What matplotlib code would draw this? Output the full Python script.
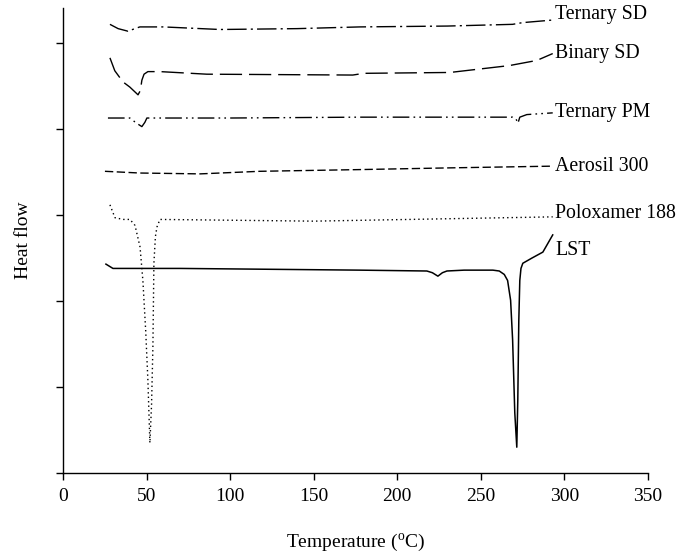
import matplotlib
matplotlib.use("Agg")
import matplotlib.pyplot as plt

plt.rcParams['font.family'] = ['Liberation Serif', 'DejaVu Serif']
plt.rcParams['mathtext.fontset'] = 'custom'
plt.rcParams['mathtext.rm'] = 'Liberation Serif'

# DSC thermograms, values (arbitrary heat flow units)
ternary_sd_t = [28.1, 33, 38.9, 43, 46, 60, 93.9, 140, 177.6, 230, 269, 275, 293]
ternary_sd_y = [5.22, 5.17, 5.14, 5.17, 5.19, 5.19, 5.16, 5.17, 5.19, 5.20, 5.22, 5.24, 5.27]

binary_sd_t = [28.1, 31, 35.9, 40, 44.9, 46.3, 47.2, 48.5, 50.8, 58, 86, 173.4, 180, 231.5, 267, 283.5, 293]
binary_sd_y = [4.83, 4.68, 4.55, 4.49, 4.40, 4.45, 4.57, 4.64, 4.67, 4.67, 4.64, 4.63, 4.65, 4.66, 4.74, 4.80, 4.88]

ternary_pm_t = [26.9, 40, 44, 47.2, 49, 50.2, 100, 177.6, 269, 271, 272.2, 273.3, 277.5, 293]
ternary_pm_y = [4.13, 4.13, 4.07, 4.03, 4.08, 4.13, 4.13, 4.14, 4.14, 4.12, 4.07, 4.14, 4.17, 4.19]

aerosil_t = [25.1, 46, 82, 117.8, 177.6, 231.5, 293]
aerosil_y = [3.51, 3.49, 3.48, 3.51, 3.53, 3.55, 3.57]

poloxamer_t = [28.1, 31.1, 36, 40.1, 43.1, 46.1, 47.8, 49.5, 50.8, 52.0, 53.0, 53.8, 54.4, 55.3, 56.2, 58.0, 150, 293]
poloxamer_y = [3.12, 2.97, 2.95, 2.95, 2.88, 2.63, 2.24, 1.65, 1.08, 0.35, 0.80, 1.47, 2.44, 2.75, 2.86, 2.95, 2.93, 2.98]

lst_t = [25.7, 29.9, 70, 177.6, 217.7, 221, 224.3, 227, 229.7, 240, 257.2, 261, 264, 266, 267.8, 269, 270.3, 271.5,
         272.1, 272.7, 273.3, 274, 275.1, 280.5, 287.1, 293]
lst_y = [2.43, 2.38, 2.38, 2.36, 2.35, 2.33, 2.29, 2.33, 2.35, 2.36, 2.36, 2.35, 2.31, 2.24, 2.01, 1.55, 0.70, 0.30,
         0.85, 1.77, 2.24, 2.38, 2.44, 2.50, 2.57, 2.77]

labels = ['Ternary SD', 'Binary SD', 'Ternary PM', 'Aerosil 300', 'Poloxamer 188', 'LST']
label_y = [5.33, 4.88, 4.19, 3.57, 3.02, 2.59]

fig = plt.figure(figsize=(6.89, 5.6), dpi=100)
ax = fig.add_axes([0.0914, 0.1554, 0.8491, 0.8303])

lw = 1.0
ax.plot(ternary_sd_t, ternary_sd_y, color='black', lw=lw, dashes=[14, 3, 1.5, 3])
ax.plot(binary_sd_t, binary_sd_y, color='black', lw=lw, dashes=[16, 5])
ax.plot(ternary_pm_t, ternary_pm_y, color='black', lw=lw, dashes=[12, 3, 1.2, 3, 1.2, 3])
ax.plot(aerosil_t, aerosil_y, color='black', lw=lw, dashes=[6, 2.5])
ax.plot(poloxamer_t, poloxamer_y, color='black', lw=lw, dashes=[1, 2.2])
ax.plot(lst_t, lst_y, color='black', lw=1.1)

for name, yv in zip(labels, label_y):
    ax.text(294.5, yv, name, ha='left', va='center', fontsize=14.3)

ax.set_xlim(0, 350)
ax.set_ylim(0, 5.41)
ax.set_xticks(range(0, 351, 50))
ax.set_yticks(range(0, 6))
ax.set_yticklabels([])
ax.tick_params(axis='x', direction='out', length=5, width=1, labelsize=14, pad=6)
ax.tick_params(axis='y', direction='out', length=5, width=1)
for side in ['top', 'right']:
    ax.spines[side].set_visible(False)
for side in ['left', 'bottom']:
    ax.spines[side].set_linewidth(1.0)

ax.set_xlabel(r'Temperature ($^{\mathrm{o}}$C)', fontsize=14, labelpad=19)
ax.set_ylabel('Heat flow', fontsize=14, labelpad=14)

fig.savefig('out.png', dpi=100)
